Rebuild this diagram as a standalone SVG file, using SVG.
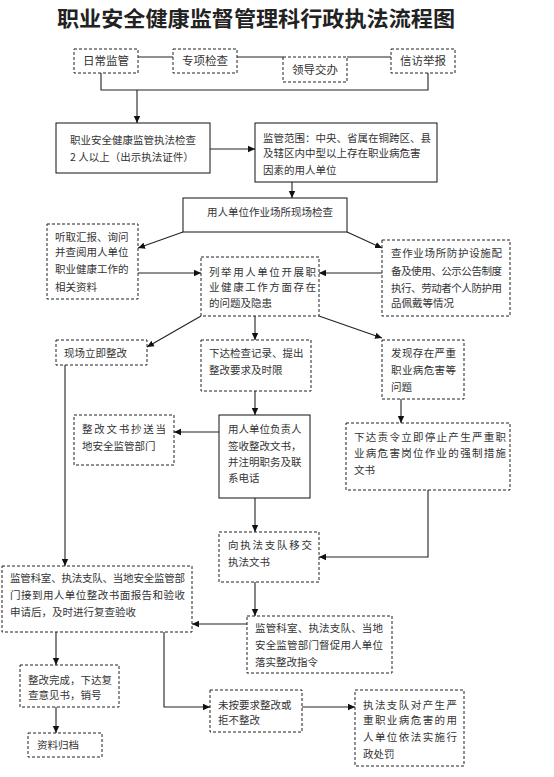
<svg xmlns="http://www.w3.org/2000/svg" width="554" height="777" viewBox="0 0 554 777">
<style>
.b{fill:#fff;stroke:#111;stroke-width:1}
.d{fill:#fff;stroke:#222;stroke-width:1;stroke-dasharray:3 2}
.t{font-family:"Noto Sans CJK SC","Noto Sans",sans-serif;font-size:10.5px;fill:#333}
.tt{font-family:"Noto Sans CJK SC","Noto Sans",sans-serif;font-size:11.5px;fill:#333}
.c{fill:none;stroke:#222;stroke-width:1.1}
.a{fill:none;stroke:#222;stroke-width:1.1;marker-end:url(#ar)}
.title{font-family:"Noto Sans CJK SC","Noto Sans",sans-serif;font-size:21px;font-weight:bold;fill:#222}
</style>
<defs>
<marker id="ar" markerWidth="8" markerHeight="8" refX="7" refY="4" orient="auto" markerUnits="userSpaceOnUse">
<path d="M0,0.8 L7,4 L0,7.2 Z" fill="#111"/>
</marker>
</defs>
<rect width="554" height="777" fill="#fff"/>
<text class="title" x="256" y="26" text-anchor="middle" textLength="398" lengthAdjust="spacingAndGlyphs">职业安全健康监督管理科行政执法流程图</text>

<g id="connectors">
<path class="c" d="M138,57 H173 M237,57 H283 M347,57 H391"/>
<path class="c" d="M101,73 V90 H428 V73"/>
<path class="a" d="M137,90 V123"/>
<path class="a" d="M210,149 H255"/>
<path class="a" d="M292,182 V198"/>
<path class="a" d="M183,232 L138,248"/>
<path class="a" d="M347,232 L382,248"/>
<path class="a" d="M138,273 H201"/>
<path class="a" d="M382,273 H319"/>
<path class="a" d="M201,316 L147,347"/>
<path class="a" d="M255,316 V340"/>
<path class="a" d="M319,316 L382,338"/>
<path class="a" d="M255,391 V415"/>
<path class="a" d="M219,432 H174"/>
<path class="a" d="M401,399 V423"/>
<path class="a" d="M65,365 V566"/>
<path class="a" d="M255,498 V532"/>
<path class="a" d="M428,490 V557 H319"/>
<path class="a" d="M255,582 V616"/>
<path class="a" d="M247,624 H192"/>
<path class="a" d="M56,632 V665"/>
<path class="a" d="M56,707 V733"/>
<path class="a" d="M164,632 V707 H210"/>
<path class="a" d="M302,707 H355"/>
</g>

<g id="n1"><rect class="d" x="74" y="49" width="64" height="24"/><text class="tt" x="106" y="65" text-anchor="middle">日常监管</text></g>
<g id="n2"><rect class="d" x="173" y="49" width="64" height="24"/><text class="tt" x="205" y="65" text-anchor="middle">专项检查</text></g>
<g id="n3"><rect class="d" x="283" y="57" width="64" height="25"/><text class="tt" x="315" y="74" text-anchor="middle">领导交办</text></g>
<g id="n4"><rect class="d" x="391" y="49" width="64" height="24"/><text class="tt" x="423" y="65" text-anchor="middle">信访举报</text></g>

<g id="n5"><rect class="b" x="56" y="123" width="154" height="50"/>
<text class="t" x="70" y="144">职业安全健康监管执法检查</text>
<text class="t" x="70" y="161">2 人以上（出示执法证件）</text></g>

<g id="n6"><rect class="b" x="255" y="123" width="182" height="59"/>
<text class="t" x="263" y="142">监管范围：中央、省属在铜跨区、县</text>
<text class="t" x="263" y="157">及辖区内中型以上存在职业病危害</text>
<text class="t" x="263" y="174">因素的用人单位</text></g>

<g id="n7"><rect class="b" x="183" y="198" width="164" height="34"/>
<text class="t" x="270" y="216" text-anchor="middle">用人单位作业场所现场检查</text></g>

<g id="n8"><rect class="d" x="47" y="224" width="91" height="75"/>
<text class="t" x="55" y="241">听取汇报、询问</text>
<text class="t" x="55" y="256">并查阅用人单位</text>
<text class="t" x="55" y="273">职业健康工作的</text>
<text class="t" x="55" y="291">相关资料</text></g>

<g id="n9"><rect class="d" x="382" y="240" width="128" height="76"/>
<text class="t" x="391" y="257" textLength="111" lengthAdjust="spacing">查作业场所防护设施配</text>
<text class="t" x="391" y="275" textLength="111" lengthAdjust="spacing">备及使用、公示公告制度</text>
<text class="t" x="391" y="292" textLength="111" lengthAdjust="spacing">执行、劳动者个人防护用</text>
<text class="t" x="391" y="307">品佩戴等情况</text></g>

<g id="n10"><rect class="d" x="201" y="257" width="118" height="59"/>
<text class="t" x="209" y="276" textLength="107" lengthAdjust="spacing">列举用人单位开展职</text>
<text class="t" x="209" y="291" textLength="107" lengthAdjust="spacing">业健康工作方面存在</text>
<text class="t" x="209" y="307">的问题及隐患</text></g>

<g id="n11"><rect class="d" x="56" y="340" width="91" height="25"/>
<text class="t" x="64" y="357">现场立即整改</text></g>

<g id="n12"><rect class="d" x="201" y="340" width="110" height="51"/>
<text class="t" x="209" y="357">下达检查记录、提出</text>
<text class="t" x="209" y="374">整改要求及时限</text></g>

<g id="n13"><rect class="d" x="382" y="340" width="82" height="59"/>
<text class="t" x="391" y="357" textLength="65" lengthAdjust="spacing">发现存在严重</text>
<text class="t" x="391" y="374" textLength="65" lengthAdjust="spacing">职业病危害等</text>
<text class="t" x="391" y="391">问题</text></g>

<g id="n14"><rect class="b" x="219" y="415" width="91" height="83"/>
<text class="t" x="228" y="433">用人单位负责人</text>
<text class="t" x="228" y="450">签收整改文书，</text>
<text class="t" x="228" y="466">并注明职务及联</text>
<text class="t" x="228" y="482">系电话</text></g>

<g id="n15"><rect class="d" x="74" y="415" width="100" height="50"/>
<text class="t" x="82" y="433" textLength="84" lengthAdjust="spacing">整改文书抄送当</text>
<text class="t" x="82" y="450">地安全监管部门</text></g>

<g id="n16"><rect class="d" x="346" y="423" width="164" height="67"/>
<text class="t" x="354" y="441" textLength="152" lengthAdjust="spacing">下达责令立即停止产生严重职</text>
<text class="t" x="354" y="457" textLength="152" lengthAdjust="spacing">业病危害岗位作业的强制措施</text>
<text class="t" x="354" y="474">文书</text></g>

<g id="n17"><rect class="d" x="2" y="566" width="190" height="66"/>
<text class="t" x="10" y="582" textLength="175" lengthAdjust="spacing">监管科室、执法支队、当地安全监管部</text>
<text class="t" x="10" y="599" textLength="175" lengthAdjust="spacing">门接到用人单位整改书面报告和验收</text>
<text class="t" x="10" y="616">申请后，及时进行复查验收</text></g>

<g id="n18"><rect class="d" x="219" y="532" width="100" height="50"/>
<text class="t" x="228" y="549" textLength="84" lengthAdjust="spacing">向执法支队移交</text>
<text class="t" x="228" y="566">执法文书</text></g>

<g id="n19"><rect class="d" x="247" y="616" width="145" height="57"/>
<text class="t" x="255" y="632" textLength="128" lengthAdjust="spacing">监管科室、执法支队、当地</text>
<text class="t" x="255" y="649" textLength="128" lengthAdjust="spacing">安全监管部门督促用人单位</text>
<text class="t" x="255" y="666">落实整改指令</text></g>

<g id="n20"><rect class="d" x="20" y="665" width="99" height="42"/>
<text class="t" x="28" y="684">整改完成，下达复</text>
<text class="t" x="28" y="699">查意见书，销号</text></g>

<g id="n21"><rect class="d" x="28" y="733" width="74" height="24"/>
<text class="t" x="37" y="749">资料归档</text></g>

<g id="n22"><rect class="d" x="210" y="690" width="92" height="42"/>
<text class="t" x="218" y="709">未按要求整改或</text>
<text class="t" x="218" y="724">拒不整改</text></g>

<g id="n23"><rect class="d" x="355" y="690" width="109" height="76"/>
<text class="t" x="363" y="709" textLength="94" lengthAdjust="spacing">执法支队对产生严</text>
<text class="t" x="363" y="724" textLength="94" lengthAdjust="spacing">重职业病危害的用</text>
<text class="t" x="363" y="741" textLength="94" lengthAdjust="spacing">人单位依法实施行</text>
<text class="t" x="363" y="758">政处罚</text></g>
</svg>
